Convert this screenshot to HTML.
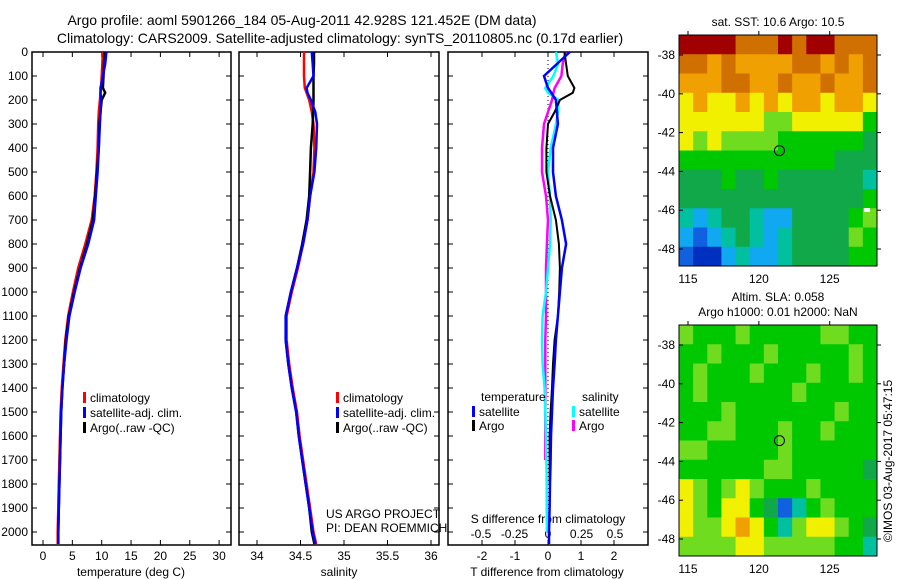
<!DOCTYPE html>
<html><head><meta charset="utf-8"><style>
body{margin:0;background:#fff}
svg{display:block;font-family:"Liberation Sans",sans-serif}
text{fill:#000}
</style></head><body>
<svg id="fig" width="900" height="580" viewBox="0 0 900 580">
<g id="g"></g>
</svg>
<script>
// ---- data ----
const pres = [0,50,100,150,170,200,250,300,400,500,600,700,800,900,1000,1100,1200,1300,1400,1500,1600,1700,1800,1900,2000,2050];
const tArgo = [10.5,10.4,10.3,10.2,10.6,10.0,9.8,9.6,9.5,9.2,8.9,8.5,7.5,6.3,5.3,4.4,3.9,3.6,3.3,3.1,3.0,2.9,2.8,2.7,2.6,2.6];
const tClim = [10.2,10.1,10.0,9.9,9.8,9.7,9.5,9.4,9.3,9.1,8.8,8.3,7.2,6.0,5.1,4.3,3.8,3.5,3.2,3.0,2.9,2.8,2.7,2.6,2.5,2.5];
const tSat  = [10.8,10.6,10.2,9.8,9.8,9.9,9.8,9.7,9.5,9.3,9.0,8.7,7.7,6.4,5.4,4.5,4.0,3.6,3.3,3.1,3.0,2.9,2.8,2.7,2.6,2.6];
const sArgo = [34.655,34.655,34.65,34.65,34.65,34.65,34.645,34.64,34.62,34.61,34.6,34.57,34.52,34.46,34.39,34.33,34.33,34.36,34.40,34.45,34.48,34.52,34.56,34.60,34.63,34.66];
const sClim = [34.54,34.54,34.54,34.55,34.57,34.6,34.63,34.65,34.66,34.65,34.61,34.58,34.53,34.47,34.40,34.34,34.34,34.37,34.41,34.46,34.49,34.53,34.57,34.61,34.65,34.68];
const sSat  = [34.63,34.64,34.65,34.57,34.58,34.62,34.67,34.69,34.68,34.66,34.61,34.58,34.53,34.46,34.39,34.33,34.33,34.36,34.40,34.45,34.48,34.52,34.56,34.60,34.64,34.67];
const dTArgo = [0.5,0.55,0.6,0.8,0.75,0.36,0.2,0.0,-0.05,-0.05,0.06,0.24,0.33,0.36,0.34,0.3,0.2,0.15,0.12,0.08,0.05,0.05,0.05,null,null,null];
const dTSat  = [0.66,0.27,-0.12,0.0,0.1,0.24,0.27,0.3,0.15,0.15,0.24,0.42,0.55,0.42,0.36,0.3,0.24,0.2,0.15,0.12,0.09,0.08,0.06,0.05,0.03,0.03];
const dSSat  = [0.06,0.075,0.04,-0.02,0.0,0.08,0.075,0.06,0.02,0.0,0.015,0.02,0.015,0.0,-0.015,-0.04,-0.045,-0.04,-0.025,-0.02,-0.015,-0.012,-0.01,-0.01,-0.008,null];
const dSArgo = [0.13,0.11,0.1,0.05,0.04,0.03,0.0,-0.03,-0.045,-0.045,-0.015,0.0,-0.008,-0.015,-0.015,-0.015,-0.02,-0.02,-0.02,-0.02,-0.02,-0.02,null,null,null,null];
const presTicks = [0,100,200,300,400,500,600,700,800,900,1000,1100,1200,1300,1400,1500,1600,1700,1800,1900,2000];
const tTicks = [0,5,10,15,20,25,30];
const sTicks = [34,34.5,35,35.5,36];
const sTickLabels = ["34","34.5","35","35.5","36"];
const dTTicks = [-2,-1,0,1,2];
const dSTicks = [-0.5,-0.25,0,0.25,0.5];
const dSTickLabels = ["-0.5","-0.25","0","0.25","0.5"];
const lonTicks = [115,120,125];
const latTicks = [-38,-40,-42,-44,-46,-48];
const sstGrid = [
[10,10,10,10,9,9,9,10,9,10,10,9,9,9],
[9,9,8,9,8,8,8,8,9,9,8,9,8,9],
[8,8,8,9,9,8,8,9,8,8,9,8,8,9],
[7,8,7,7,8,7,8,7,8,8,7,8,8,7],
[7,7,7,7,7,7,6,6,7,7,7,7,7,5],
[7,6,7,6,6,6,6,5,5,5,5,5,5,4],
[5,5,5,5,5,5,5,5,5,5,5,4,4,4],
[4,4,4,5,4,4,5,4,4,4,4,4,4,3],
[4,4,4,4,4,4,4,4,4,4,4,4,4,5],
[3,2,3,4,4,3,2,2,4,4,4,4,5,6],
[2,1,2,3,4,3,2,3,4,4,4,4,6,5],
[1,0,0,2,3,2,2,3,4,4,4,4,5,5]];
const slaGrid = [
[6,5,5,5,6,5,5,5,5,5,6,6,5,5],
[5,5,6,5,5,5,6,5,5,5,5,5,6,5],
[5,6,5,5,5,6,5,5,5,6,5,5,6,5],
[5,6,5,5,5,5,5,5,6,5,5,5,5,5],
[5,5,5,6,5,5,5,5,5,5,5,6,5,5],
[5,5,6,6,5,5,5,6,5,5,6,5,5,5],
[6,6,5,5,5,5,5,6,5,5,5,5,5,5],
[5,5,5,5,5,5,6,6,5,5,5,5,5,4],
[7,6,5,6,7,6,5,5,5,6,5,5,5,5],
[7,6,5,7,7,5,4,1,3,5,6,5,5,5],
[7,6,6,7,8,7,5,3,6,7,7,6,5,4],
[6,6,6,6,7,7,6,6,6,6,6,5,5,3]];
const argoLon = 121.452, argoLat = -42.928;
const cmap = ["#0030c0","#1060e0","#10a8f0","#00c0a0","#10a848","#00c800","#70dc20","#f0f000","#f0a000","#d07000","#a00000"];

// ---- helpers ----
const NS="http://www.w3.org/2000/svg";
const G=document.getElementById('g');
function mk(tag,attrs,parent,txt){const e=document.createElementNS(NS,tag);for(const k in attrs)e.setAttribute(k,attrs[k]);if(txt!==undefined)e.textContent=txt;(parent||G).appendChild(e);return e;}
const Y=p=>52+p*0.24;
const TOP=52,BOT=545;
function line(xs,ys,color,name,w){
  let d="";let pen=false;
  for(let i=0;i<xs.length;i++){ if(xs[i]===null||xs[i]===undefined||isNaN(xs[i])){pen=false;continue;}
    d+=(pen?"L":"M")+xs[i].toFixed(1)+","+ys[i].toFixed(1);pen=true;}
  const e=mk('path',{d:d,fill:'none',stroke:color,'stroke-width':w||2.5});
  
  
}
function frame(x0,x1,name){
  const r=mk('rect',{x:x0,y:TOP,width:x1-x0,height:BOT-TOP,fill:'none',stroke:'#000','stroke-width':1.5});
  
  
}
function txt(x,y,s,anchor,size,name){
  const e=mk('text',{x:x,y:y,'text-anchor':anchor||'start','font-size':size||12},G,s);
  
  
  return e;
}
const nz=f=>v=>(v===null?null:f(v));

// titles
txt(302,25,"Argo profile: aoml 5901266_184 05-Aug-2011 42.928S 121.452E (DM data)","middle",14,"title-line-1");
txt(340,43,"Climatology: CARS2009. Satellite-adjusted climatology: synTS_20110805.nc (0.17d earlier)","middle",14,"title-line-2");

// panel 1 temperature
const XT=t=>43+t*5.87;
frame(32,231,'temperature-panel');
presTicks.forEach(p=>{mk('line',{x1:32,x2:37,y1:Y(p),y2:Y(p),stroke:'#000'});mk('line',{x1:226,x2:231,y1:Y(p),y2:Y(p),stroke:'#000'});
  txt(28,Y(p)+4,String(p),'end',12,'pressure-tick-label');});
tTicks.forEach(t=>{mk('line',{x1:XT(t),x2:XT(t),y1:TOP,y2:TOP+5,stroke:'#000'});mk('line',{x1:XT(t),x2:XT(t),y1:BOT-5,y2:BOT,stroke:'#000'});
  txt(XT(t),560,String(t),'middle',12,'temperature-tick-label');});
txt(131,576,"temperature (deg C)","middle",12,"temperature-axis-title");
line(tClim.map(XT),pres.map(Y),'#f00','temperature-climatology-line');
line(tArgo.map(XT),pres.map(Y),'#000','temperature-argo-line');
line(tSat.map(XT),pres.map(Y),'#00f','temperature-satellite-line');

// panel 2 salinity
const XS=s=>257+(s-34)*87;
frame(239,439,'salinity-panel');
presTicks.forEach(p=>{mk('line',{x1:239,x2:244,y1:Y(p),y2:Y(p),stroke:'#000'});mk('line',{x1:434,x2:439,y1:Y(p),y2:Y(p),stroke:'#000'});});
sTicks.forEach((s,i)=>{mk('line',{x1:XS(s),x2:XS(s),y1:TOP,y2:TOP+5,stroke:'#000'});mk('line',{x1:XS(s),x2:XS(s),y1:BOT-5,y2:BOT,stroke:'#000'});
  txt(XS(s),560,sTickLabels[i],'middle',12,'salinity-tick-label');});
txt(339,576,"salinity","middle",12,"salinity-axis-title");
line(sClim.map(XS),pres.map(Y),'#f00','salinity-climatology-line');
line(sArgo.map(XS),pres.map(Y),'#000','salinity-argo-line');
line(sSat.map(XS),pres.map(Y),'#00f','salinity-satellite-line');
txt(326,518,"US ARGO PROJECT","start",12,"project-label");
txt(326,532,"PI: DEAN ROEMMICH","start",12,"pi-label");

// legends panels 1,2
function leg(x,y,color,label){mk('rect',{x:x,y:y-10,width:3,height:11,fill:color});txt(x+7,y,label,'start',12,'legend-entry');}
[[83],[336]].forEach(([x])=>{leg(x,402,'#f00','climatology');leg(x,417,'#00f','satellite-adj. clim.');leg(x,432,'#000','Argo(..raw -QC)');});

// panel 3 differences
const XD=d=>548+d*33;
const XDS=d=>548+d*134;
frame(448,648,'difference-panel');
presTicks.forEach(p=>{mk('line',{x1:448,x2:453,y1:Y(p),y2:Y(p),stroke:'#000'});mk('line',{x1:643,x2:648,y1:Y(p),y2:Y(p),stroke:'#000'});});
dTTicks.forEach(t=>{mk('line',{x1:XD(t),x2:XD(t),y1:TOP,y2:TOP+5,stroke:'#000'});mk('line',{x1:XD(t),x2:XD(t),y1:BOT-5,y2:BOT,stroke:'#000'});
  txt(XD(t),560,String(t),'middle',12,'t-diff-tick-label');});
dSTicks.forEach((s,i)=>txt(XDS(s),538,dSTickLabels[i],'middle',12,'s-diff-tick-label'));
txt(548,523,"S difference from climatology","middle",12,"s-diff-axis-title");
txt(547,576,"T difference from climatology","middle",12,"t-diff-axis-title");
mk('line',{x1:548,x2:548,y1:TOP,y2:BOT,stroke:'#000','stroke-dasharray':'1,3'});
line(dSArgo.map(nz(XDS)),pres.map(Y),'#f0f','s-diff-argo-line',2.5);
line(dSSat.map(nz(XDS)),pres.map(Y),'#0ff','s-diff-satellite-line',2.5);
line(dTArgo.map(nz(XD)),pres.map(Y),'#000','t-diff-argo-line',2);
line(dTSat.map(nz(XD)),pres.map(Y),'#00f','t-diff-satellite-line',2.5);
txt(481,401,"temperature","start",12,"legend-temperature-header");
txt(582,401,"salinity","start",12,"legend-salinity-header");
leg(472,416,'#00f','satellite');leg(472,430,'#000','Argo');
leg(572,416,'#0ff','satellite');leg(572,430,'#f0f','Argo');

// maps
function map(y0,y1,grid,name,latAt38,pxLat){
  const x0=679,x1=877;
  const LX=l=>688+(l-115)*14.17;
  const LY=l=>latAt38+(-38-l)*pxLat;
  const rows=grid.length,cols=grid[0].length;
  const cw=(x1-x0)/cols,ch=(y1-y0)/rows;
  const grp=mk('g',{});
  
  
  grid.forEach((row,r)=>row.forEach((v,c)=>{
    const e=mk('rect',{x:x0+c*cw,y:y0+r*ch,width:cw+0.5,height:ch+0.5,fill:cmap[v]},grp);
    
    
  }));
  mk('rect',{x:x0,y:y0,width:x1-x0,height:y1-y0,fill:'none',stroke:'#000','stroke-width':1});
  lonTicks.forEach(l=>{mk('line',{x1:LX(l),x2:LX(l),y1:y0-4,y2:y0,stroke:'#000'});txt(LX(l),y1+17,String(l),'middle',12,'lon-tick-label');});
  latTicks.forEach(l=>{mk('line',{x1:x0,x2:x0+4,y1:LY(l),y2:LY(l),stroke:'#000'});mk('line',{x1:x1,x2:x1+4,y1:LY(l),y2:LY(l),stroke:'#000'});txt(x0-4,LY(l)+4,String(l),'end',12,'lat-tick-label');});
  const m=mk('circle',{cx:LX(argoLon),cy:LY(argoLat),r:5,fill:'none',stroke:'#000','stroke-width':1});
  
  
}
map(35,266,sstGrid,'sst-map',55,19.4);
mk('rect',{x:864,y:208,width:6,height:4,fill:'#fff'});
txt(778,26,"sat. SST: 10.6  Argo: 10.5","middle",12,"sst-map-title");
map(325,556,slaGrid,'sla-map',345,19.4);
txt(778,301,"Altim. SLA: 0.058","middle",12,"sla-map-title");
txt(778,316,"Argo h1000: 0.01 h2000: NaN","middle",12,"sla-map-subtitle");
const c=txt(0,0,"©IMOS 03-Aug-2017 05:47:15","middle",12,"copyright-label");
c.setAttribute('transform','translate(892,461) rotate(-90)');
</script>
</body></html>
